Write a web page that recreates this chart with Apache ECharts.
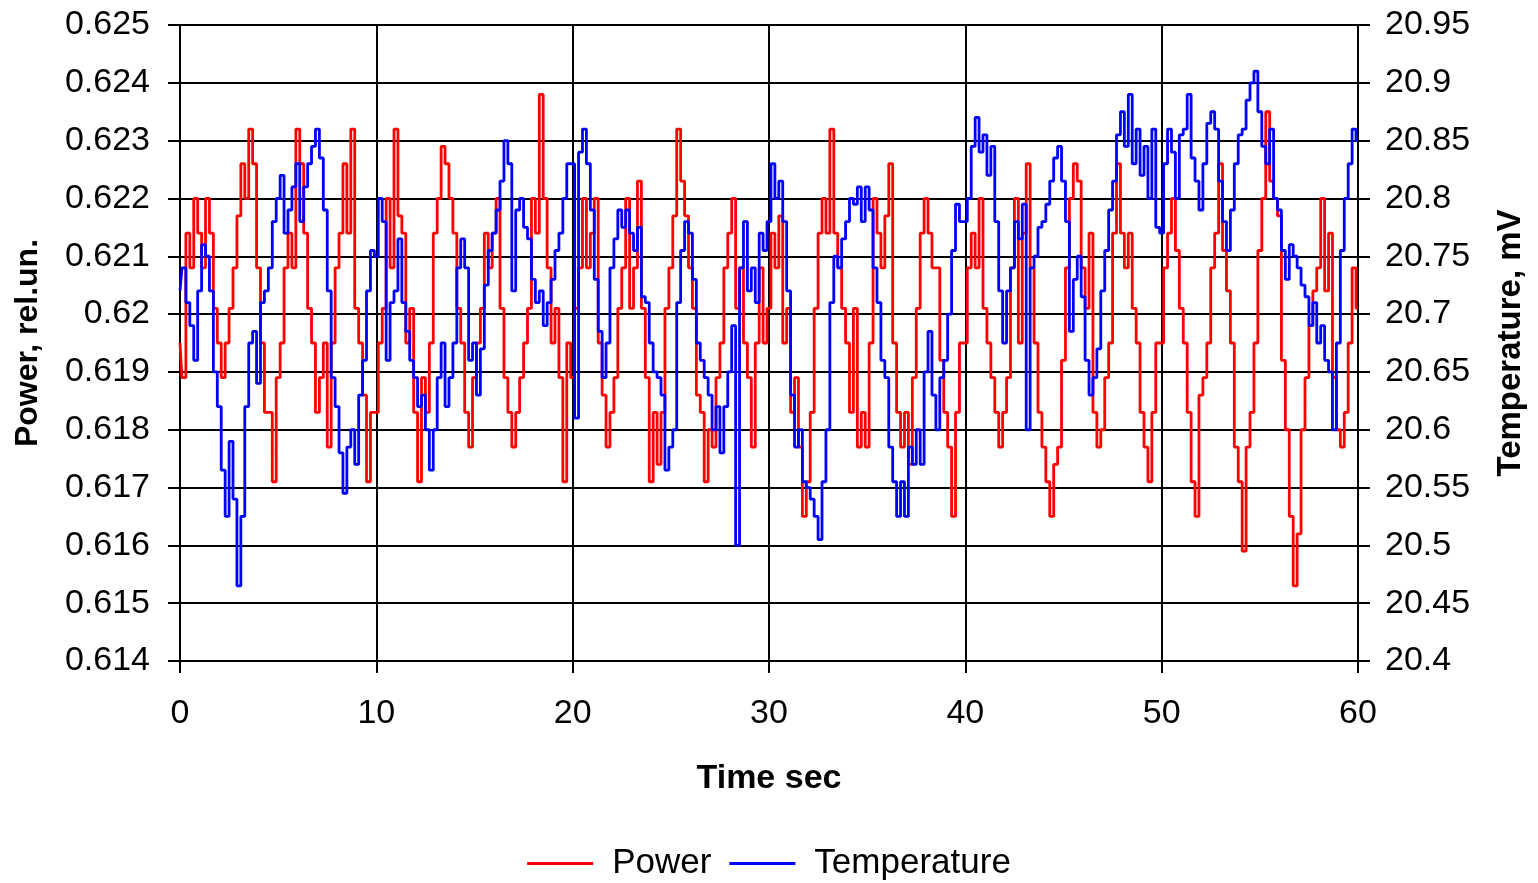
<!DOCTYPE html>
<html>
<head>
<meta charset="utf-8">
<script src="https://cdn.jsdelivr.net/npm/echarts@6/dist/echarts.min.js"></script>
<style>
html,body{margin:0;padding:0;background:#fff;}
#chart{width:1538px;height:883px;}
</style>
</head>
<body>
<div id="chart"></div>
<script>
// Sampling: one value every 0.2 s from 0 to 60 s
var timeStep = 0.2;

var power = [
0.6195,0.6189,0.6214,0.6208,0.6220,0.6214,0.6208,0.6220,0.6214,0.6201,
0.6195,0.6189,0.6195,0.6201,0.6208,0.6217,0.6226,0.6220,0.6232,0.6226,
0.6208,0.6195,0.6183,0.6183,0.6171,0.6189,0.6195,0.6208,0.6214,0.6208,
0.6232,0.6226,0.6214,0.6201,0.6195,0.6183,0.6189,0.6195,0.6177,0.6195,
0.6208,0.6214,0.6226,0.6214,0.6232,0.6201,0.6195,0.6186,0.6171,0.6183,
0.6183,0.6195,0.6201,0.6220,0.6208,0.6232,0.6217,0.6214,0.6195,0.6201,
0.6183,0.6171,0.6189,0.6183,0.6195,0.6214,0.6220,0.6229,0.6226,0.6220,
0.6214,0.6201,0.6195,0.6183,0.6177,0.6189,0.6195,0.6201,0.6214,0.6208,
0.6214,0.6220,0.6201,0.6189,0.6183,0.6177,0.6183,0.6189,0.6195,0.6201,
0.6220,0.6214,0.6238,0.6220,0.6208,0.6195,0.6201,0.6189,0.6171,0.6195,
0.6189,0.6201,0.6208,0.6220,0.6208,0.6214,0.6220,0.6195,0.6186,0.6177,
0.6183,0.6189,0.6201,0.6208,0.6220,0.6201,0.6208,0.6223,0.6201,0.6189,
0.6171,0.6183,0.6174,0.6183,0.6201,0.6208,0.6217,0.6232,0.6223,0.6217,
0.6208,0.6201,0.6186,0.6183,0.6171,0.6180,0.6177,0.6189,0.6195,0.6208,
0.6214,0.6220,0.6201,0.6208,0.6195,0.6189,0.6177,0.6195,0.6208,0.6195,
0.6201,0.6214,0.6208,0.6217,0.6195,0.6201,0.6183,0.6189,0.6177,0.6165,
0.6171,0.6183,0.6201,0.6214,0.6220,0.6214,0.6232,0.6214,0.6208,0.6201,
0.6195,0.6183,0.6201,0.6177,0.6183,0.6177,0.6195,0.6220,0.6214,0.6208,
0.6217,0.6226,0.6195,0.6183,0.6177,0.6183,0.6174,0.6189,0.6201,0.6214,
0.6220,0.6214,0.6208,0.6208,0.6192,0.6183,0.6177,0.6165,0.6183,0.6195,
0.6195,0.6208,0.6214,0.6208,0.6220,0.6201,0.6195,0.6189,0.6183,0.6177,
0.6183,0.6189,0.6208,0.6220,0.6195,0.6214,0.6226,0.6208,0.6195,0.6183,
0.6177,0.6171,0.6165,0.6174,0.6177,0.6192,0.6208,0.6220,0.6226,0.6223,
0.6208,0.6201,0.6214,0.6183,0.6177,0.6180,0.6189,0.6195,0.6214,0.6226,
0.6214,0.6208,0.6214,0.6201,0.6195,0.6183,0.6177,0.6171,0.6183,0.6195,
0.6195,0.6208,0.6214,0.6220,0.6211,0.6201,0.6195,0.6183,0.6171,0.6165,
0.6186,0.6189,0.6195,0.6208,0.6214,0.6226,0.6211,0.6204,0.6195,0.6177,
0.6171,0.6159,0.6177,0.6183,0.6195,0.6211,0.6220,0.6235,0.6223,0.6220,
0.6217,0.6192,0.6180,0.6165,0.6153,0.6162,0.6180,0.6189,0.6198,0.6204,
0.6208,0.6220,0.6204,0.6214,0.6189,0.6180,0.6177,0.6183,0.6195,0.6208,
0.6201
];

var temperature = [
20.72,20.74,20.71,20.69,20.66,20.72,20.76,20.75,20.72,20.65,
20.62,20.565,20.525,20.59,20.54,20.465,20.525,20.62,20.675,20.685,
20.64,20.71,20.72,20.74,20.78,20.80,20.82,20.77,20.79,20.81,
20.83,20.78,20.81,20.83,20.845,20.86,20.835,20.79,20.72,20.645,
20.62,20.58,20.545,20.585,20.60,20.57,20.63,20.66,20.72,20.755,
20.75,20.80,20.78,20.66,20.71,20.72,20.765,20.71,20.685,20.66,
20.645,20.62,20.63,20.60,20.565,20.60,20.645,20.675,20.62,20.645,
20.675,20.74,20.765,20.74,20.66,20.675,20.63,20.67,20.725,20.755,
20.77,20.79,20.815,20.85,20.83,20.72,20.79,20.80,20.775,20.765,
20.73,20.71,20.72,20.69,20.71,20.73,20.755,20.77,20.80,20.83,
20.83,20.61,20.84,20.86,20.83,20.79,20.73,20.685,20.645,20.675,
20.74,20.765,20.79,20.775,20.79,20.77,20.755,20.775,20.715,20.71,
20.675,20.65,20.645,20.63,20.565,20.585,20.60,20.71,20.755,20.78,
20.77,20.73,20.675,20.66,20.645,20.63,20.60,20.62,20.58,20.62,
20.65,20.69,20.50,20.74,20.78,20.72,20.74,20.71,20.77,20.755,
20.78,20.83,20.80,20.815,20.78,20.72,20.63,20.585,20.60,20.555,
20.55,20.54,20.525,20.505,20.555,20.60,20.71,20.75,20.74,20.765,
20.78,20.80,20.795,20.81,20.78,20.81,20.79,20.74,20.71,20.66,
20.645,20.585,20.555,20.525,20.555,20.525,20.585,20.57,20.60,20.57,
20.65,20.685,20.63,20.60,20.645,20.66,20.70,20.755,20.795,20.78,
20.78,20.80,20.845,20.87,20.84,20.855,20.82,20.845,20.78,20.72,
20.675,20.72,20.74,20.78,20.765,20.795,20.60,20.74,20.75,20.775,
20.78,20.795,20.815,20.835,20.845,20.815,20.78,20.685,20.73,20.75,
20.715,20.66,20.63,20.645,20.67,20.72,20.755,20.79,20.815,20.855,
20.875,20.845,20.89,20.83,20.86,20.82,20.845,20.80,20.86,20.775,
20.77,20.83,20.86,20.84,20.80,20.855,20.86,20.89,20.835,20.815,
20.79,20.83,20.865,20.875,20.86,20.815,20.78,20.755,20.79,20.83,
20.855,20.86,20.885,20.90,20.91,20.875,20.845,20.83,20.86,20.80,
20.79,20.755,20.73,20.76,20.75,20.74,20.725,20.715,20.69,20.71,
20.675,20.69,20.66,20.65,20.60,20.675,20.755,20.80,20.83,20.86,
20.85
];

var xTicks = [0, 10, 20, 30, 40, 50, 60];
var powerTicks = [0.614, 0.615, 0.616, 0.617, 0.618, 0.619, 0.62, 0.621, 0.622, 0.623, 0.624, 0.625];
var tempTicks = [20.4, 20.45, 20.5, 20.55, 20.6, 20.65, 20.7, 20.75, 20.8, 20.85, 20.9, 20.95];

function pairs(vals) {
  var out = [];
  for (var i = 0; i < vals.length; i++) {
    out.push([Math.round(i * timeStep * 10) / 10, vals[i]]);
  }
  return out;
}

var FONT = '"Liberation Sans", Arial, sans-serif';
var chart = echarts.init(document.getElementById('chart'), null, {renderer: 'canvas'});
chart.setOption({
  animation: false,
  backgroundColor: '#ffffff',
  textStyle: {fontFamily: FONT, color: '#000'},
  grid: {left: 180, right: 180, top: 25, bottom: 222, containLabel: false},
  legend: {
    top: 841,
    left: 'center',
    itemWidth: 66,
    itemHeight: 3,
    itemGap: 18,
    textStyle: {fontFamily: FONT, fontSize: 35, color: '#000', padding: [0, 0, 0, 14]},
    data: [
      {name: 'Power', icon: 'rect'},
      {name: 'Temperature', icon: 'rect'}
    ]
  },
  xAxis: {
    type: 'value',
    min: xTicks[0],
    max: xTicks[xTicks.length - 1],
    interval: xTicks[1] - xTicks[0],
    name: 'Time sec',
    nameLocation: 'middle',
    nameGap: 101,
    nameTextStyle: {fontFamily: FONT, fontSize: 34, fontWeight: 'bold', color: '#000'},
    axisLine: {show: true, lineStyle: {color: '#000', width: 2}},
    axisTick: {show: true, inside: false, length: 12, lineStyle: {color: '#000', width: 2}},
    axisLabel: {fontFamily: FONT, fontSize: 34, color: '#000', margin: 36},
    splitLine: {show: true, lineStyle: {color: '#000', width: 2}}
  },
  yAxis: [
    {
      type: 'value',
      position: 'left',
      min: powerTicks[0],
      max: powerTicks[powerTicks.length - 1],
      interval: 0.001,
      name: 'Power, rel.un.',
      nameLocation: 'middle',
      nameRotate: 90,
      nameGap: 136,
      nameTextStyle: {fontFamily: FONT, fontSize: 32, fontWeight: 'bold', color: '#000'},
      axisLine: {show: true, lineStyle: {color: '#000', width: 2}},
      axisTick: {show: true, inside: false, length: 12, lineStyle: {color: '#000', width: 2}},
      axisLabel: {fontFamily: FONT, fontSize: 34, color: '#000', margin: 30,
        formatter: function (v) { return String(parseFloat(v.toFixed(3))); }},
      splitLine: {show: true, lineStyle: {color: '#000', width: 2}}
    },
    {
      type: 'value',
      position: 'right',
      min: tempTicks[0],
      max: tempTicks[tempTicks.length - 1],
      interval: 0.05,
      name: 'Temperature, mV',
      nameLocation: 'middle',
      nameRotate: 90,
      nameGap: 136,
      nameTextStyle: {fontFamily: FONT, fontSize: 33, fontWeight: 'bold', color: '#000'},
      axisLine: {show: true, lineStyle: {color: '#000', width: 2}},
      axisTick: {show: true, inside: false, length: 12, lineStyle: {color: '#000', width: 2}},
      axisLabel: {fontFamily: FONT, fontSize: 34, color: '#000', margin: 27,
        formatter: function (v) { return String(parseFloat(v.toFixed(2))); }},
      splitLine: {show: false}
    }
  ],
  series: [
    {
      name: 'Power',
      type: 'line',
      yAxisIndex: 0,
      step: 'middle',
      symbol: 'none',
      data: pairs(power),
      lineStyle: {color: '#ff0000', width: 2.8},
      itemStyle: {color: '#ff0000'},
      z: 3
    },
    {
      name: 'Temperature',
      type: 'line',
      yAxisIndex: 1,
      step: 'middle',
      symbol: 'none',
      data: pairs(temperature),
      lineStyle: {color: '#0000ff', width: 2.8},
      itemStyle: {color: '#0000ff'},
      z: 4
    }
  ]
});
</script>
</body>
</html>
